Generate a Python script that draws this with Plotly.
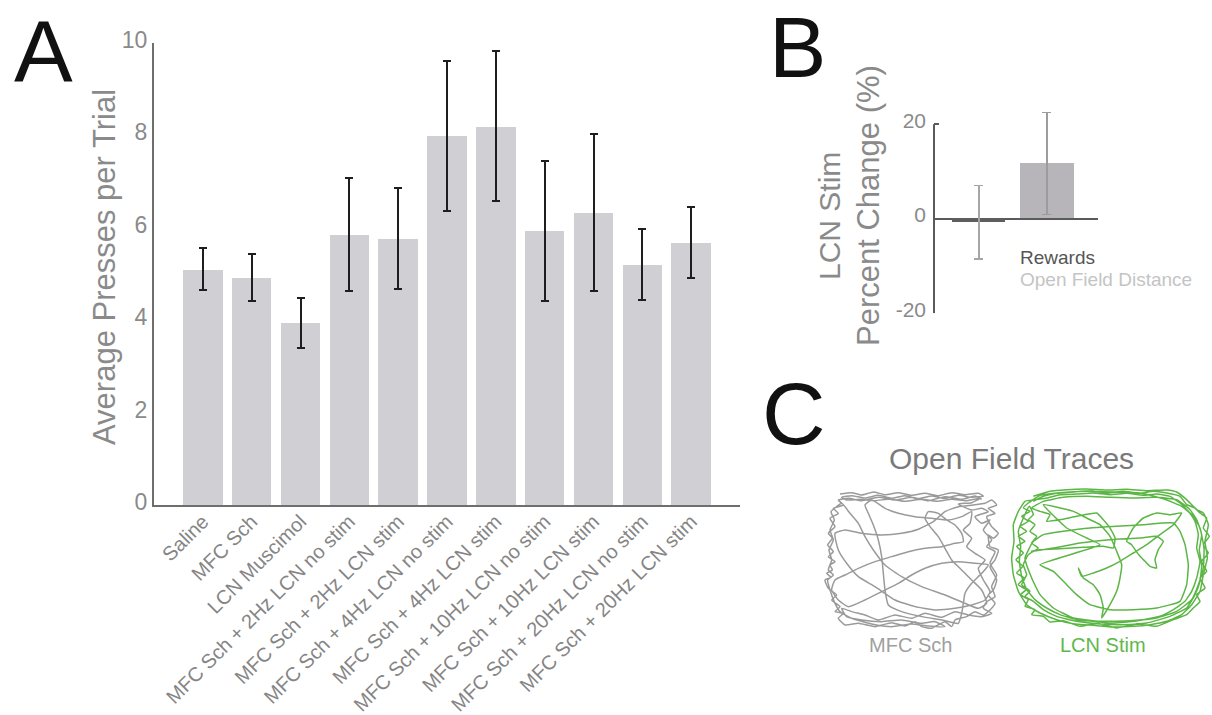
import plotly.graph_objects as go

W, H = 1212, 715
FONT = "Liberation Sans, Arial, sans-serif"

# ---- Panel A: average presses per trial ----
conditions = [
    "Saline",
    "MFC Sch",
    "LCN Muscimol",
    "MFC Sch + 2Hz LCN no stim",
    "MFC Sch + 2Hz LCN stim",
    "MFC Sch + 4Hz LCN no stim",
    "MFC Sch + 4Hz LCN stim",
    "MFC Sch + 10Hz LCN no stim",
    "MFC Sch + 10Hz LCN stim",
    "MFC Sch + 20Hz LCN no stim",
    "MFC Sch + 20Hz LCN stim",
]
presses_mean = [5.10, 4.92, 3.94, 5.84, 5.76, 7.98, 8.19, 5.93, 6.32, 5.20, 5.67]
presses_err = [0.46, 0.51, 0.54, 1.22, 1.10, 1.62, 1.62, 1.51, 1.70, 0.77, 0.77]
yticks_a = [0, 2, 4, 6, 8, 10]

# ---- Panel B: percent change with LCN stimulation ----
change_labels = ["Rewards", "Open Field Distance"]
change_mean = [-0.7, 11.7]
change_err = [7.8, 10.8]
yticks_b = [-20, 0, 20]
yticktext_b = ["-20", "0", "20"]

# ---- Panel C: open field traces (arena coordinates) ----
mfc_sch_path = [
    (75, 42), (110, 38), (140, 45), (175, 36), (210, 44), (250, 38), (290, 46), (330, 40),
    (370, 47), (410, 38), (450, 44), (490, 40), (505, 48), (470, 52), (430, 46), (390, 55),
    (350, 48), (310, 56), (270, 47), (230, 55), (190, 46), (150, 54), (110, 47), (80, 52),
    (95, 60), (135, 58), (180, 62), (225, 57), (270, 64), (320, 58), (365, 64), (410, 58),
    (455, 62), (495, 55), (470, 68), (430, 72), (470, 90), (500, 85), (520, 95),
    (480, 110), (500, 130), (525, 120), (505, 150), (530, 180), (515, 200), (540, 215),
    (525, 250), (545, 285), (530, 320), (540, 350), (515, 365), (505, 385), (530, 400),
    (500, 410), (460, 405), (420, 395), (380, 412), (330, 400), (290, 415), (240, 405),
    (190, 420), (150, 405), (110, 395), (80, 385), (95, 410), (140, 420), (200, 425),
    (260, 420), (320, 430), (360, 425), (390, 440), (340, 438), (290, 432), (230, 440),
    (170, 432), (110, 415), (75, 395), (60, 370), (45, 330), (38, 300), (55, 285), (40, 270),
    (50, 240), (42, 210), (55, 180), (45, 150), (58, 120), (48, 95), (65, 80), (80, 70),
    (105, 100), (130, 130), (150, 170), (175, 210), (210, 255), (260, 290), (320, 320),
    (390, 345), (450, 370), (490, 385), (515, 370), (500, 330), (470, 300), (440, 270),
    (410, 240), (390, 205), (370, 170), (345, 140), (330, 115), (340, 95), (370, 100),
    (395, 120), (420, 135), (440, 160), (445, 185), (420, 190), (380, 200), (330, 205),
    (280, 215), (230, 230), (180, 245), (130, 265), (90, 285), (60, 300), (50, 330),
    (70, 360), (100, 380), (150, 360), (200, 335), (250, 310), (290, 285), (330, 265),
    (380, 250), (430, 245), (480, 250), (520, 255), (500, 280), (470, 310), (450, 340),
    (445, 370), (440, 400), (430, 430), (380, 420), (320, 410), (260, 395), (220, 375),
    (210, 330), (205, 280), (200, 230), (190, 180), (175, 135), (160, 100), (150, 75),
    (170, 60), (210, 85), (250, 100), (300, 110), (350, 115), (400, 120), (440, 110),
    (470, 95), (465, 130), (445, 150), (470, 175), (455, 200), (480, 220), (510, 240),
    (490, 265), (505, 300), (525, 335), (510, 360), (470, 375), (420, 385), (360, 390),
    (300, 380), (240, 360), (180, 320), (130, 290), (95, 250), (70, 210), (60, 160),
    (90, 150), (140, 160), (200, 165), (260, 160), (310, 148), (355, 125), (390, 95),
    (430, 80), (475, 75), (510, 70), (530, 60), (545, 75), (520, 85), (540, 100),
    (515, 110), (530, 140), (550, 160), (535, 175), (520, 165), (525, 200), (550, 210),
    (540, 240), (525, 260), (545, 300), (535, 330), (520, 345), (540, 370), (525, 390),
    (505, 405), (480, 395), (455, 410), (420, 420), (410, 440), (390, 425), (350, 445),
    (320, 440), (300, 425), (270, 438), (230, 428), (180, 440), (130, 430), (90, 435),
    (70, 415), (85, 400), (60, 395), (75, 380), (50, 360), (65, 345), (40, 325), (30, 300),
    (48, 292), (35, 280), (52, 270), (45, 255), (60, 245), (40, 230), (55, 215), (38, 195),
    (52, 175), (40, 160), (60, 140), (45, 115), (70, 100), (55, 85), (85, 75), (70, 60),
    (100, 55), (140, 62), (190, 52), (240, 60), (290, 52), (340, 62), (390, 50), (440, 58),
    (480, 48), (500, 58),
]

lcn_stim_path = [
    (100, 55), (150, 40), (200, 35), (260, 33), (320, 36), (380, 34), (440, 38), (500, 36),
    (530, 42), (560, 65), (590, 95), (610, 105), (625, 140), (615, 190), (622, 240),
    (610, 290), (600, 340), (575, 380), (545, 410), (500, 430), (450, 440), (400, 445),
    (340, 447), (280, 442), (220, 437), (170, 425), (120, 405), (80, 380), (55, 340),
    (40, 290), (35, 240), (42, 190), (40, 140), (55, 100), (75, 70), (105, 65), (140, 60),
    (180, 50), (230, 48), (280, 45), (330, 50), (380, 46), (430, 52), (470, 48), (510, 55),
    (540, 75), (565, 100), (585, 130), (595, 170), (590, 210), (600, 250), (590, 300),
    (575, 340), (555, 370), (520, 395), (480, 415), (430, 425), (380, 432), (330, 435),
    (280, 430), (230, 425), (180, 410), (140, 390), (105, 365), (80, 335), (65, 295),
    (58, 250), (62, 205), (55, 160), (70, 120), (88, 85), (100, 110), (85, 125), (105, 140),
    (90, 160), (110, 175), (95, 195), (115, 210), (85, 230), (70, 260), (80, 290), (65, 320),
    (90, 340), (75, 355), (100, 370), (130, 395), (170, 415), (230, 430), (300, 438),
    (370, 440), (440, 435), (510, 415), (560, 390), (585, 350), (600, 310), (605, 260),
    (598, 215), (605, 170), (590, 125), (570, 95), (530, 65), (470, 58), (400, 60),
    (330, 58), (260, 55), (190, 58), (130, 70), (95, 90), (120, 100), (150, 110), (140, 130),
    (180, 125), (230, 115), (290, 105), (310, 125), (330, 150), (345, 180), (340, 210),
    (310, 205), (250, 208), (180, 212), (120, 215), (95, 220), (160, 210), (240, 195),
    (330, 185), (420, 180), (470, 175), (490, 190), (475, 215), (465, 245), (470, 270),
    (450, 265), (435, 250), (420, 235), (405, 215), (395, 200), (380, 190), (400, 150),
    (430, 120), (470, 105), (510, 110), (545, 105), (520, 140), (480, 170), (440, 200),
    (400, 225), (360, 250), (320, 270), (280, 285), (245, 295), (235, 270), (250, 300),
    (280, 320), (300, 350), (310, 390), (305, 420), (330, 380), (350, 340), (360, 300),
    (365, 260), (350, 220), (330, 175), (300, 140), (260, 120), (220, 100), (180, 90),
    (130, 80), (200, 150), (260, 180), (300, 200), (120, 260), (160, 280), (200, 320),
    (230, 350), (270, 380), (330, 395), (400, 395), (470, 390), (540, 370), (560, 320),
    (565, 260), (555, 200), (540, 160), (520, 135), (430, 140), (350, 145), (270, 150),
    (190, 160), (130, 170), (100, 190), (75, 240), (95, 300), (120, 350), (160, 390),
    (220, 420), (300, 430), (390, 428), (470, 420), (530, 400), (575, 365), (595, 320),
    (610, 270), (612, 210), (600, 150), (580, 115), (545, 85), (490, 62), (420, 45),
    (340, 42), (260, 40), (180, 44), (120, 52), (85, 75), (70, 90), (90, 100), (65, 115),
    (85, 130), (60, 145), (80, 160), (55, 175), (75, 190), (50, 205), (70, 225), (48, 245),
    (68, 265), (50, 285), (72, 300), (55, 320), (78, 335), (62, 350), (85, 365), (75, 385),
    (105, 395), (95, 410), (130, 415), (150, 432), (190, 428), (240, 445), (290, 436),
    (350, 450), (410, 438), (470, 445), (520, 425), (560, 410), (580, 390), (600, 370),
    (590, 350), (615, 330), (600, 300), (620, 280), (605, 250), (625, 225), (610, 200),
    (628, 175), (610, 150), (620, 120), (600, 105), (585, 90), (560, 80), (540, 55),
    (500, 45), (460, 40), (420, 46), (370, 40), (320, 45), (270, 38), (220, 42), (170, 46),
    (130, 55), (100, 70),
]


def px(x):
    return x / W


def py(y):
    return 1 - y / H


fig = go.Figure()

fig.add_trace(go.Bar(
    x=list(range(len(conditions))), y=presses_mean,
    width=0.81,
    marker=dict(color="#d0d0d4", line=dict(width=0)),
    error_y=dict(type="data", array=presses_err, color="#1e1e1e",
                 thickness=2, width=4),
    xaxis="x", yaxis="y",
))

change_colors = ["#5e5e5e", "#b7b5ba"]
change_err_colors = ["#a6a6a6", "#9c9c9c"]
for i in range(len(change_labels)):
    fig.add_trace(go.Bar(
        x=[i], y=[change_mean[i]], width=0.78,
        marker=dict(color=change_colors[i], line=dict(width=0)),
        error_y=dict(type="data", array=[change_err[i]],
                     color=change_err_colors[i], thickness=1.3, width=4.5),
        xaxis="x2", yaxis="y2", name=change_labels[i],
    ))

fig.add_trace(go.Scatter(
    x=[p[0] for p in mfc_sch_path], y=[p[1] for p in mfc_sch_path],
    mode="lines",
    line=dict(color="#9a9a9a", width=1.5, shape="spline", smoothing=0.5),
    xaxis="x3", yaxis="y3",
))
fig.add_trace(go.Scatter(
    x=[p[0] for p in lcn_stim_path], y=[p[1] for p in lcn_stim_path],
    mode="lines",
    line=dict(color="#5cb646", width=1.5, shape="spline", smoothing=0.4),
    xaxis="x4", yaxis="y4",
))

axis_grey = "#6e6e6e"
tick_grey = "#8a8a8a"

fig.update_layout(
    width=W, height=H,
    margin=dict(l=0, r=0, t=0, b=0, autoexpand=False),
    paper_bgcolor="white", plot_bgcolor="white",
    showlegend=False,
    font=dict(family=FONT, color=tick_grey),
    bargap=0,
    xaxis=dict(
        domain=[px(154), px(740)], range=[-1, 11], anchor="y",
        tickvals=list(range(len(conditions))), ticktext=conditions,
        tickangle=-45, tickfont=dict(size=20, color="#858585"),
        ticklabelstandoff=-5,
        showline=True, linecolor=axis_grey, linewidth=2,
        showgrid=False, zeroline=False, ticks="", automargin=False,
    ),
    yaxis=dict(
        domain=[py(505), py(42.5)], range=[0, 10], anchor="x",
        tickvals=yticks_a, tickfont=dict(size=23, color=tick_grey),
        ticklabelshift=-3,
        showline=True, linecolor=axis_grey, linewidth=2,
        showgrid=False, zeroline=False, ticks="", automargin=False,
    ),
    xaxis2=dict(
        domain=[px(934), px(1098)], range=[-0.66, 1.75], anchor="y2",
        visible=False, automargin=False,
    ),
    yaxis2=dict(
        domain=[py(313.3), py(105.4)], range=[-20, 24], anchor="x2",
        tickvals=yticks_b, ticktext=yticktext_b,
        tickfont=dict(size=21, color=tick_grey),
        ticklabelstandoff=7, ticklabelshift=-4,
        ticks="inside", ticklen=5, tickwidth=2, tickcolor="#5a5a5a",
        showline=False, showgrid=False, automargin=False,
        zeroline=True, zerolinecolor="#5a5a5a", zerolinewidth=2,
    ),
    xaxis3=dict(domain=[px(815), px(1000)], range=[0, 555],
                anchor="y3", visible=False, automargin=False),
    yaxis3=dict(domain=[py(633.3), py(480)], range=[460, 0],
                anchor="x3", visible=False, automargin=False),
    xaxis4=dict(domain=[px(1000), px(1212)], range=[0, 636],
                anchor="y4", visible=False, automargin=False),
    yaxis4=dict(domain=[py(638), py(478)], range=[480, 0],
                anchor="x4", visible=False, automargin=False),
)

# vertical axis line of panel B spans only the labelled range
fig.add_shape(type="line", xref="x2 domain", yref="y2",
              x0=0, x1=0, y0=yticks_b[0], y1=yticks_b[-1],
              line=dict(color="#5a5a5a", width=2))

ann = []


def label(text, x, y, size, color, **kw):
    d = dict(text=text, x=px(x), y=py(y), xref="paper", yref="paper",
             showarrow=False, font=dict(family=FONT, size=size, color=color),
             xanchor="center", yanchor="middle")
    d.update(kw)
    ann.append(d)


label("A", 43.5, 0, 88, "#111111", yanchor="top")
label("B", 797, -3, 86, "#111111", yanchor="top")
label("C", 794, 413, 88, "#111111")
label("Average Presses per Trial", 105, 267, 31, "#8a8a8a", textangle=-90)
label("LCN Stim", 829, 216, 30, "#8a8a8a", textangle=-90)
label("Percent Change (%)", 869, 206, 31, "#8a8a8a", textangle=-90)
label(change_labels[0], 1018, 257, 19, "#555555", xanchor="left")
label(change_labels[1], 1018, 279, 19, "#c4c4c4", xanchor="left")
label("Open Field Traces", 1011, 458, 30, "#7a7a7a")
label("MFC Sch", 910, 645, 20, "#a0a0a0")
label("LCN Stim", 1103, 645, 20, "#5fb84a")

fig.update_layout(annotations=ann)

fig.write_html("out.html")
